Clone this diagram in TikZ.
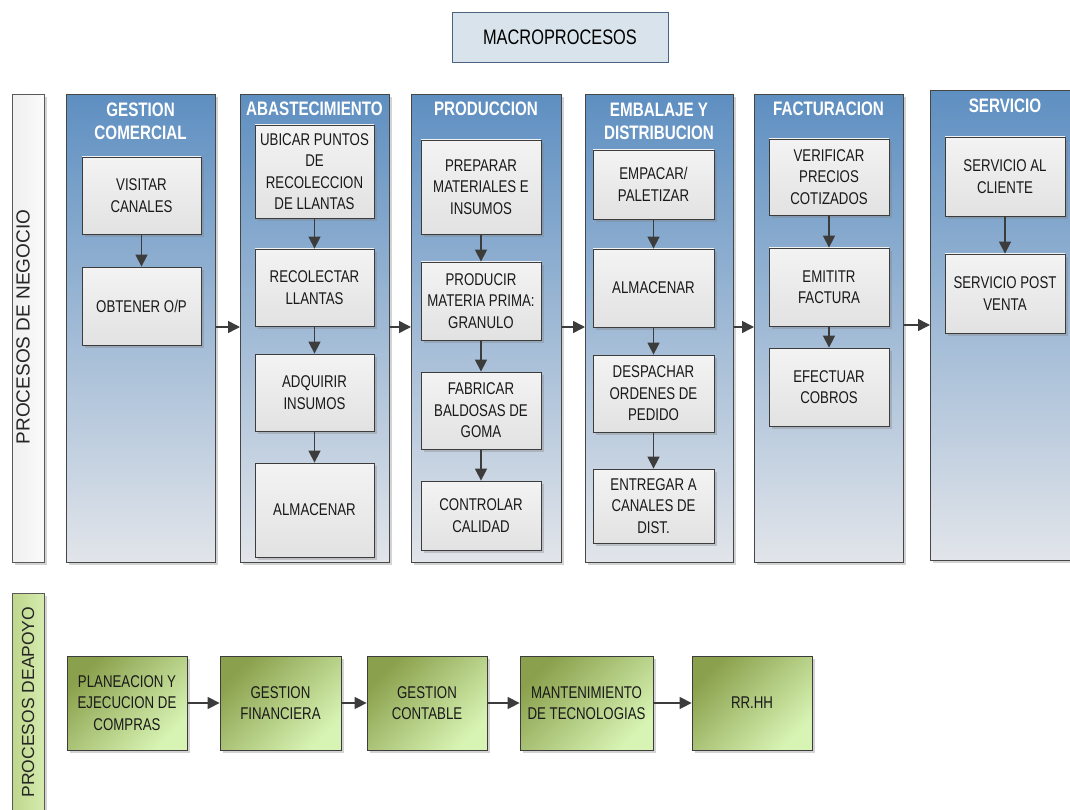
\documentclass[tikz,border=0pt]{standalone}
\usepackage{fontspec}
\setmainfont{Liberation Sans}
\newfontfamily\narrow{Liberation Sans}[FakeStretch=0.78]
\usetikzlibrary{arrows.meta,shadows}
\definecolor{coltop}{RGB}{94,143,193}
\definecolor{colbot}{RGB}{226,229,234}
\definecolor{colborder}{RGB}{70,70,70}
\definecolor{boxborder}{RGB}{60,60,60}
\definecolor{boxtop}{RGB}{243,243,243}
\definecolor{boxbot}{RGB}{226,226,226}
\definecolor{grdark}{RGB}{138,160,76}
\definecolor{grlight}{RGB}{216,244,180}
\definecolor{titlefill}{RGB}{217,227,236}
\definecolor{titleborder}{RGB}{74,100,130}
\definecolor{arrowcol}{RGB}{60,60,60}
\begin{document}
\begin{tikzpicture}[x=1pt,y=-1pt,
  shad/.style={drop shadow={shadow xshift=3pt,shadow yshift=-3pt,opacity=0.35,fill=gray}},
  col/.style={draw=colborder,line width=0.9pt,top color=coltop,bottom color=colbot,shad,anchor=north west,inner sep=0,minimum height=468pt},
  coltitle/.style={text=white,font=\narrow\bfseries\fontsize{19.5}{23}\selectfont,align=center,inner sep=0},
  box/.style={draw=boxborder,line width=0.8pt,top color=boxtop,bottom color=boxbot,shad,inner sep=0,minimum width=120pt,align=center,text=black!90,font=\narrow\fontsize{17}{21.5}\selectfont},
  gbox/.style={draw=boxborder,line width=0.8pt,top color=grdark,bottom color=grlight,shading angle=45,shad,inner sep=0,minimum height=94pt,align=center,text=black!90,font=\narrow\fontsize{17}{21.5}\selectfont},
  arr/.style={draw=arrowcol,line width=1.5pt,-{Triangle[length=12pt,width=12pt]}},
  sidelabel/.style={rotate=90,font=\fontsize{19}{22}\selectfont,text=black!85,inner sep=0}
]
\useasboundingbox (0,0) rectangle (1070,810);

% title
\node[draw=titleborder,line width=0.9pt,fill=titlefill,minimum width=216pt,minimum height=50pt,inner sep=0,font=\narrow\fontsize{21}{24}\selectfont] (macro) at (560,37) {MACROPROCESOS};

% side labels
\node[draw=gray!70!black,line width=0.9pt,left color=gray!12,right color=gray!4,shad,anchor=north west,minimum width=32pt,minimum height=468pt,inner sep=0] (negbar) at (12,94) {};
\node[sidelabel] (negtxt) at (23,327) {PROCESOS DE NEGOCIO};
\node[draw=gray!70!black,line width=0.9pt,left color={rgb,255:red,190;green,214;blue,140},right color={rgb,255:red,214;green,236;blue,176},shad,anchor=north west,minimum width=32pt,minimum height=225pt,inner sep=0] (apobar) at (12,593) {};
\node[sidelabel,font=\fontsize{17.5}{20}\selectfont] (apotxt) at (28,702) {PROCESOS DEAPOYO};

% columns
\node[col,minimum width=149pt] (c1) at (66,94) {};
\node[col,minimum width=149pt] (c2) at (240,94) {};
\node[col,minimum width=150pt] (c3) at (411,94) {};
\node[col,minimum width=148pt] (c4) at (585,94) {};
\node[col,minimum width=149pt] (c5) at (754,94) {};
\node[col,minimum width=140pt,minimum height=470pt] (c6) at (930,90) {};

% column titles
\node[coltitle] (t1) at (140.5,121) {GESTION\\COMERCIAL};
\node[coltitle] (t2) at (314.5,109) {ABASTECIMIENTO};
\node[coltitle] (t3) at (486,109) {PRODUCCION};
\node[coltitle] (t4) at (659,121) {EMBALAJE Y\\DISTRIBUCION};
\node[coltitle] (t5) at (828.5,109) {FACTURACION};
\node[coltitle] (t6) at (1005,106) {SERVICIO};

% column 1
\node[box,minimum width=119pt,minimum height=77pt] (a1) at (141.5,195.5) {VISITAR\\CANALES};
\node[box,minimum width=119pt,minimum height=78pt] (a2) at (141.5,306) {OBTENER O/P};
% column 2
\node[box,minimum width=119pt,minimum height=93pt] (b1) at (314.5,171.5) {UBICAR PUNTOS\\DE\\RECOLECCION\\DE LLANTAS};
\node[box,minimum width=119pt,minimum height=77pt] (b2) at (314.5,287.5) {RECOLECTAR\\LLANTAS};
\node[box,minimum width=119pt,minimum height=77pt] (b3) at (314.5,392.5) {ADQUIRIR\\INSUMOS};
\node[box,minimum width=119pt,minimum height=94pt] (b4) at (314.5,510) {ALMACENAR};
% column 3
\node[box,minimum height=94pt] (p1) at (481,187) {PREPARAR\\MATERIALES E\\INSUMOS};
\node[box,minimum height=78pt] (p2) at (481,301) {PRODUCIR\\MATERIA PRIMA:\\GRANULO};
\node[box,minimum height=77pt] (p3) at (481,410.5) {FABRICAR\\BALDOSAS DE\\GOMA};
\node[box,minimum height=69pt] (p4) at (481,515.5) {CONTROLAR\\CALIDAD};
% column 4
\node[box,minimum width=121pt,minimum height=69pt] (e1) at (653.5,184.5) {EMPACAR/\\PALETIZAR};
\node[box,minimum width=121pt,minimum height=78pt] (e2) at (653.5,288) {ALMACENAR};
\node[box,minimum width=121pt,minimum height=77pt] (e3) at (653.5,393.5) {DESPACHAR\\ORDENES DE\\PEDIDO};
\node[box,minimum width=121pt,minimum height=74pt] (e4) at (653.5,506) {ENTREGAR A\\CANALES DE\\DIST.};
% column 5
\node[box,minimum height=76pt] (f1) at (829,177) {VERIFICAR\\PRECIOS\\COTIZADOS};
\node[box,minimum height=78pt] (f2) at (829,287) {EMITITR\\FACTURA};
\node[box,minimum height=78pt] (f3) at (829,387) {EFECTUAR\\COBROS};
% column 6
\node[box,minimum height=79pt] (s1) at (1005,176.5) {SERVICIO AL\\CLIENTE};
\node[box,minimum height=79pt] (s2) at (1005,293.5) {SERVICIO POST\\VENTA};

% inner arrows
\draw[arr] (a1) -- (a2);
\draw[arr] (b1) -- (b2);
\draw[arr] (b2) -- (b3);
\draw[arr] (b3) -- (b4);
\draw[arr] (p1) -- (p2);
\draw[arr] (p2) -- (p3);
\draw[arr] (p3) -- (p4);
\draw[arr] (e1) -- (e2);
\draw[arr] (e2) -- (e3);
\draw[arr] (e3) -- (e4);
\draw[arr] (f1) -- (f2);
\draw[arr] (f2) -- (f3);
\draw[arr] (s1) -- (s2);

% column arrows
\coordinate (yl) at (0,327);
\coordinate (yl6) at (0,325);
\draw[arr] (c1.east |- yl) -- (c2.west |- yl);
\draw[arr] (c2.east |- yl) -- (c3.west |- yl);
\draw[arr] (c3.east |- yl) -- (c4.west |- yl);
\draw[arr] (c4.east |- yl) -- (c5.west |- yl);
\draw[arr] (c5.east |- yl6) -- (c6.west |- yl6);

% support processes
\node[gbox,minimum width=120pt] (g1) at (127,703) {PLANEACION Y\\EJECUCION DE\\COMPRAS};
\node[gbox,minimum width=121pt] (g2) at (280.5,703) {GESTION\\FINANCIERA};
\node[gbox,minimum width=120pt] (g3) at (427,703) {GESTION\\CONTABLE};
\node[gbox,minimum width=133pt] (g4) at (586.5,703) {MANTENIMIENTO\\DE TECNOLOGIAS};
\node[gbox,minimum width=120pt] (g5) at (752,703) {RR.HH};
\draw[arr] (g1) -- (g2);
\draw[arr] (g2) -- (g3);
\draw[arr] (g3) -- (g4);
\draw[arr] (g4) -- (g5);
\end{tikzpicture}
\end{document}
